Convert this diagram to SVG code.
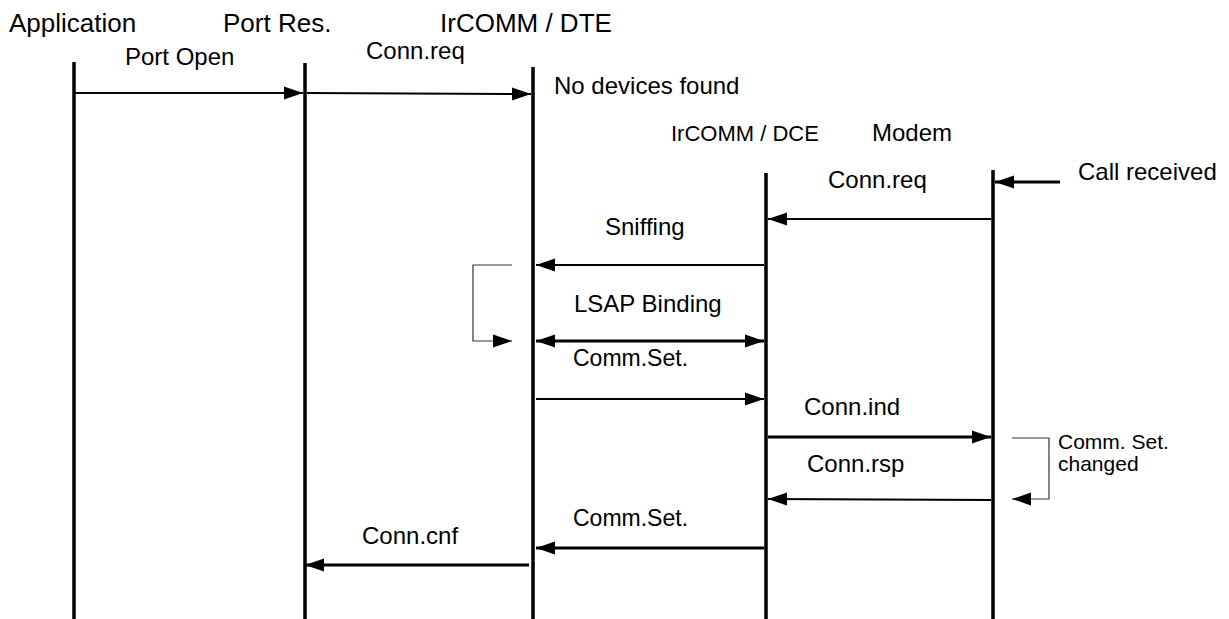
<svg xmlns="http://www.w3.org/2000/svg" width="1229" height="619" viewBox="0 0 1229 619">
<style>
text{font-family:"Liberation Sans",Arial,sans-serif;fill:#000}
.h{font-size:26px}
.m{font-size:24px}
.s{font-size:21px}
.life{stroke:#000;stroke-width:3.5;fill:none}
.a1{stroke:#000;stroke-width:2;fill:none}
.a2{stroke:#000;stroke-width:3;fill:none}
.br{stroke:#333;stroke-width:1.2;fill:none}
</style>
<defs>
<marker id="ah" markerUnits="userSpaceOnUse" markerWidth="20" markerHeight="14" refX="19" refY="6.5" orient="auto-start-reverse" viewBox="0 0 20 13">
<path d="M0,0 L19,6.5 L0,13 z" fill="#000"/>
</marker>
</defs>
<g id="application"><line class="life" x1="74" y1="62" x2="74" y2="619"/><text class="h" x="9" y="32">Application</text></g>
<g id="portres"><line class="life" x1="305" y1="63" x2="305" y2="619"/><text class="h" x="223" y="32">Port Res.</text></g>
<g id="dte"><line class="life" x1="533" y1="67" x2="533" y2="619"/><text class="h" x="440" y="32">IrCOMM / DTE</text><text class="m" x="554" y="94">No devices found</text></g>
<g id="dce"><line class="life" x1="766" y1="173" x2="766" y2="619"/><text style="font-size:22px" x="671" y="141">IrCOMM / DCE</text></g>
<g id="modem"><line class="life" x1="993" y1="170" x2="993" y2="619"/><text class="m" x="872" y="141">Modem</text><text class="m" x="1078" y="180">Call received</text><text class="s" x="1058" y="449">Comm. Set.</text><text class="s" x="1058" y="471">changed</text></g>
<g id="connectors">
<line class="a1" x1="75" y1="93" x2="303" y2="93" marker-end="url(#ah)"/>
<line class="a1" x1="307" y1="93" x2="531" y2="94" marker-end="url(#ah)"/>
<line class="a2" x1="1060" y1="182" x2="995" y2="182" marker-end="url(#ah)"/>
<line class="a1" x1="991" y1="219" x2="768" y2="219" marker-end="url(#ah)"/>
<line class="a1" x1="764" y1="265" x2="536" y2="265" marker-end="url(#ah)"/>
<polyline class="br" points="512,265 473,265 473,341 512,341" marker-end="url(#ah)"/>
<line class="a2" x1="536" y1="341" x2="764" y2="341" marker-start="url(#ah)" marker-end="url(#ah)"/>
<line class="a1" x1="536" y1="399" x2="764" y2="399" marker-end="url(#ah)"/>
<line class="a2" x1="768" y1="437" x2="991" y2="437" marker-end="url(#ah)"/>
<polyline class="br" points="1012,438 1049,438 1049,499 1012,499" marker-end="url(#ah)"/>
<line class="a1" x1="991" y1="500" x2="768" y2="499" marker-end="url(#ah)"/>
<line class="a2" x1="764" y1="548" x2="536" y2="548" marker-end="url(#ah)"/>
<line class="a2" x1="529" y1="565" x2="305" y2="565" marker-end="url(#ah)"/>
<text class="m" x="125" y="65">Port Open</text>
<text class="m" x="366" y="59">Conn.req</text>
<text class="m" x="828" y="188">Conn.req</text>
<text class="m" x="605" y="235">Sniffing</text>
<text class="m" x="574" y="312">LSAP Binding</text>
<text class="s" x="573" y="366" style="font-size:23px">Comm.Set.</text>
<text class="m" x="804" y="415">Conn.ind</text>
<text class="m" x="807" y="472">Conn.rsp</text>
<text class="m" x="573" y="526" style="font-size:23px">Comm.Set.</text>
<text class="m" x="362" y="544">Conn.cnf</text>
</g>
</svg>
